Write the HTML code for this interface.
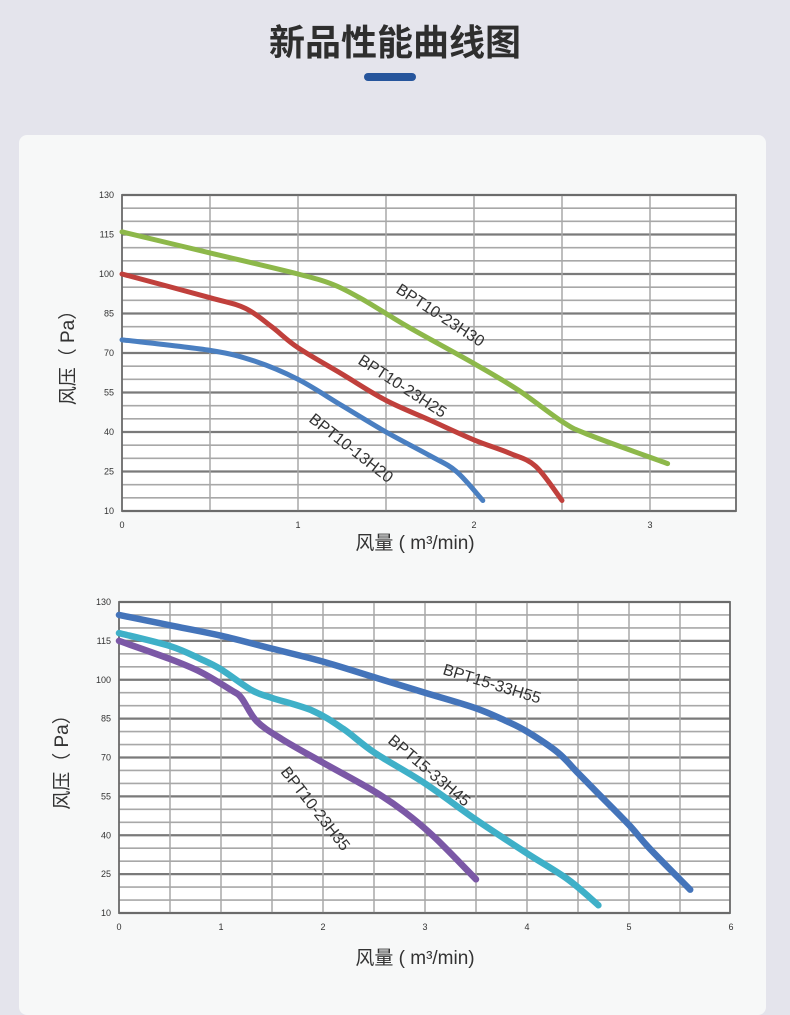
<!DOCTYPE html>
<html><head><meta charset="utf-8">
<style>
html,body{margin:0;padding:0;width:790px;height:999px;overflow:hidden;background:#e4e4ec;font-family:"Liberation Sans","Noto Sans CJK SC",sans-serif;}
#title{position:absolute;left:0;width:790px;top:14px;text-align:center;font-size:36px;font-weight:bold;color:#2e2e2e;font-family:"Noto Sans CJK SC","WenQuanYi Zen Hei",sans-serif;}
#bar{position:absolute;left:364px;top:73px;width:52px;height:8px;border-radius:4px;background:#26559c;}
#card{position:absolute;left:19px;top:135px;width:747px;height:880px;border-radius:8px;background:#f7f8f8;}
svg{position:absolute;left:0;top:0;}
</style></head>
<body>
<div id="title">新品性能曲线图</div>
<div id="bar"></div>
<div id="card"></div>
<svg id="chart" width="790" height="999"></svg>
<script>
// Top chart data
const topXTicks = [0,1,2,3];
const topYTicks = [10,25,40,55,70,85,100,115,130];
const topNames = ["BPT10-23H30","BPT10-23H25","BPT10-13H20"];
const topGreenX = [0,0.5,1,1.2,1.35,1.5,1.65,2,2.25,2.5,2.65,3.1];
const topGreenY = [116,108,100,96,91,85,79,66,56,44,39,28];
const topRedX = [0,0.5,0.7,0.85,1,1.25,1.5,1.75,2,2.2,2.35,2.5];
const topRedY = [100,91,87,80,72,62,52,44.5,37,32,27,14];
const topBlueX = [0,0.5,0.75,1,1.25,1.5,1.75,1.9,2.05];
const topBlueY = [75,71,67,60,50,40,31,25,14];
// Bottom chart data
const botXTicks = [0,1,2,3,4,5,6];
const botYTicks = [10,25,40,55,70,85,100,115,130];
const botNames = ["BPT15-33H55","BPT15-33H45","BPT10-23H35"];
const botBlueX = [0,0.5,1,1.5,2,2.5,3,3.5,3.8,4,4.3,4.5,4.7,5,5.2,5.6];
const botBlueY = [125,121,117,112,107,101,95,89,84,80,72,64,56,44,35,19];
const botCyanX = [0,0.5,0.8,1,1.3,1.5,1.9,2.2,2.5,3,3.5,4,4.4,4.7];
const botCyanY = [118,113,108,104,96,93,88,81,72,60,46,33,23,13];
const botPurpleX = [0,0.5,0.8,1.1,1.2,1.35,1.6,2,2.5,2.8,3.1,3.5];
const botPurpleY = [115,108,103,96,93,84,77,68,57,49,39,23];

const NS="http://www.w3.org/2000/svg";
const svg=document.getElementById('chart');
function mk(tag,attrs,parent){const e=document.createElementNS(NS,tag);for(const k in attrs)e.setAttribute(k,attrs[k]);(parent||svg).appendChild(e);return e;}
function smooth(pts){let d=`M${pts[0][0]},${pts[0][1]}`;for(let i=0;i<pts.length-1;i++){const p0=pts[i-1]||pts[i],p1=pts[i],p2=pts[i+1],p3=pts[i+2]||p2;
const c1=[p1[0]+(p2[0]-p0[0])/6,p1[1]+(p2[1]-p0[1])/6],c2=[p2[0]-(p3[0]-p1[0])/6,p2[1]-(p3[1]-p1[1])/6];
d+=` C${c1[0]},${c1[1]} ${c2[0]},${c2[1]} ${p2[0]},${p2[1]}`;}return d;}

function drawChart(cfg){
  const g=mk('g',{});
  
  
  const sx=v=>cfg.x0+(v-0)*(cfg.x1-cfg.x0)/cfg.xmax;
  const sy=v=>cfg.y1-(v-10)*(cfg.y1-cfg.y0)/120;
  mk('rect',{x:cfg.x0,y:cfg.y0,width:cfg.xr-cfg.x0,height:cfg.y1-cfg.y0,fill:'#ffffff'},g);
  for(let v=10;v<=130;v+=5){const major=(v-10)%15===0;
    const l=mk('line',{x1:cfg.x0,x2:cfg.xr,y1:sy(v),y2:sy(v),stroke:major?'#7a7a7a':'#a8a8a8','stroke-width':major?2.2:1.6},g);
    }
  for(let v=0.5;v*((cfg.x1-cfg.x0)/cfg.xmax)<cfg.xr-cfg.x0-2;v+=0.5){
    const l=mk('line',{x1:sx(v),x2:sx(v),y1:cfg.y0,y2:cfg.y1,stroke:'#a8a8a8','stroke-width':1.5},g);
    }
  mk('rect',{x:cfg.x0,y:cfg.y0,width:cfg.xr-cfg.x0,height:cfg.y1-cfg.y0,fill:'none',stroke:'#6a6a6a','stroke-width':1.8},g);
  cfg.yt.forEach(v=>{const t=mk('text',{x:cfg.x0-8,y:sy(v)+3,'text-anchor':'end','font-size':9,fill:'#333'},g);t.textContent=v;
    });
  cfg.xt.forEach(v=>{const t=mk('text',{x:sx(v),y:cfg.y1+17,'text-anchor':'middle','font-size':9,fill:'#333'},g);t.textContent=v;
    });
  const yt=mk('text',{x:0,y:0,'text-anchor':'middle','font-size':19,fill:'#333',transform:`translate(${cfg.yTitleX},${(cfg.y0+cfg.y1)/2}) rotate(-90)`},g);
  yt.textContent='风压（ Pa）';
  const xt=mk('text',{x:cfg.xTitleX,y:cfg.xTitleY,'text-anchor':'middle','font-size':19,fill:'#333'},g);
  xt.textContent='风量 ( m³/min)';
  cfg.series.forEach(s=>{
    const pts=s.xs.map((x,i)=>[sx(x),sy(s.ys[i])]);
    const p=mk('path',{d:smooth(pts),fill:'none',stroke:s.color,'stroke-width':cfg.sw,'stroke-linecap':'round','stroke-linejoin':'round'},g);
    
    const t=mk('text',{x:0,y:0,'font-size':16,fill:'#333',transform:`translate(${s.lx},${s.ly}) rotate(${s.rot})`},g);
    t.textContent=s.label;
  });
}
drawChart({name:'top-chart',x0:122,x1:298,xmax:1,xr:736,y0:195,y1:511,xt:topXTicks,yt:topYTicks,sw:5,
  yTitleX:74,xTitleX:415,xTitleY:549,
  series:[{xs:topGreenX,ys:topGreenY,color:'#8db84a',label:topNames[0],lx:395,ly:292,rot:33},
          {xs:topRedX,ys:topRedY,color:'#c0403c',label:topNames[1],lx:357,ly:363,rot:33},
          {xs:topBlueX,ys:topBlueY,color:'#4a7fc1',label:topNames[2],lx:308,ly:421,rot:38}]});
drawChart({name:'bottom-chart',x0:119,x1:221,xmax:1,xr:730,y0:602,y1:913,xt:botXTicks,yt:botYTicks,sw:6.5,
  yTitleX:68,xTitleX:415,xTitleY:964,
  series:[{xs:botBlueX,ys:botBlueY,color:'#4474ba',label:botNames[0],lx:442,ly:674,rot:17},
          {xs:botCyanX,ys:botCyanY,color:'#3fb0c8',label:botNames[1],lx:387,ly:742,rot:40},
          {xs:botPurpleX,ys:botPurpleY,color:'#7b58a6',label:botNames[2],lx:280,ly:772,rot:52}]});
</script>
</body></html>
